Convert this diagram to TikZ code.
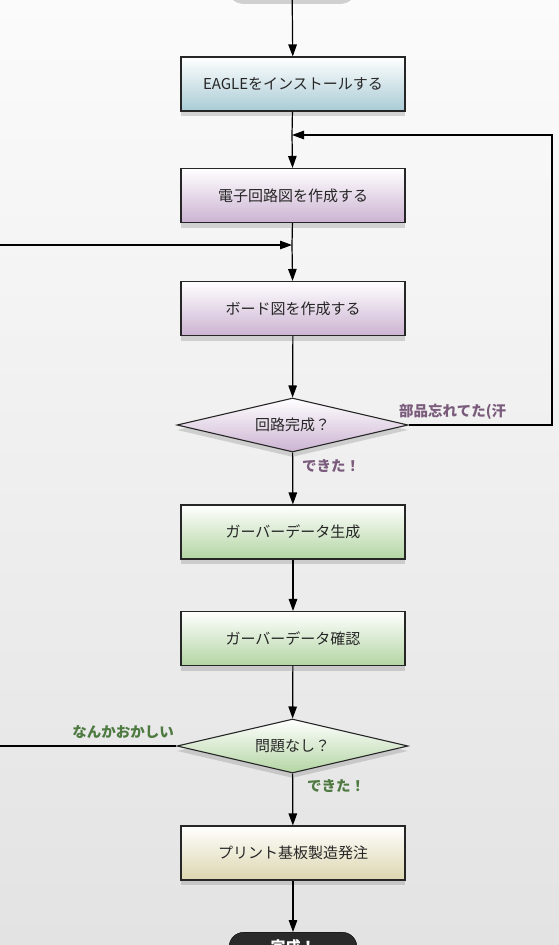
\documentclass[tikz,border=0pt]{standalone}
\usepackage{fontspec}
\setmainfont{Noto Sans CJK JP}
\usepackage{tikz}
\usetikzlibrary{arrows.meta}
\usetikzlibrary{shapes.geometric}
\usetikzlibrary{shadows}
\definecolor{bgtop}{HTML}{FBFBFB}
\definecolor{bgbot}{HTML}{E3E3E3}
\definecolor{installc}{HTML}{A9CBD5}
\definecolor{drawc}{HTML}{CCB3D2}
\definecolor{gerberc}{HTML}{B3D5A3}
\definecolor{orderc}{HTML}{DCD6AE}
\definecolor{termc}{HTML}{2A2A2A}
\definecolor{purplelbl}{HTML}{7A5B7C}
\definecolor{greenlbl}{HTML}{4E7A41}
\tikzset{
	stepbox/.style={shape=rectangle,draw=black!85,line width=1.1pt,minimum width=224pt,minimum height=54pt,inner sep=0pt,top color=white,font=\fontsize{15}{17}\selectfont,text=black!85,drop shadow={shadow xshift=0pt,shadow yshift=-5pt,opacity=0.3}},
	checkbox/.style={shape=diamond,draw=black!85,line width=1.1pt,minimum width=231pt,minimum height=54pt,aspect=4.3,inner sep=0pt,top color=white,font=\fontsize{15}{17}\selectfont,text=black!85,drop shadow={shadow xshift=0pt,shadow yshift=-5pt,opacity=0.3}},
	termbox/.style={shape=rectangle,rounded corners=15pt,draw=black,fill=termc,minimum width=128pt,inner sep=0pt,text=white,font=\bfseries\fontsize{15}{17}\selectfont,drop shadow={shadow xshift=0pt,shadow yshift=-5pt,opacity=0.35}},
	flow/.style={line width=1.2pt,-{Triangle[length=12pt,width=8.5pt]}},
	wire/.style={line width=1.2pt},
	lbl/.style={font=\bfseries\fontsize{14.5}{16}\selectfont,inner sep=0pt}
}
\newcommand{\drawstepbox}[4]{
	\draw #1 node (#2) [stepbox,bottom color=#3] {#4};
}
\newcommand{\drawcheckbox}[4]{
	\draw #1 node (#2) [checkbox,bottom color=#3] {#4};
}
\begin{document}
\begin{tikzpicture}[x=1pt,y=-1pt]
\useasboundingbox (0,0) rectangle (559,945);
\clip (0,0) rectangle (559,945);
\shade[top color=bgtop,bottom color=bgbot] (0,0) rectangle (559,945);
\draw (292,-1) node (start) [termbox,minimum height=40pt,anchor=south] {};
\drawstepbox{(293,84)}{install}{installc}{EAGLEをインストールする}
\drawstepbox{(293,195.5)}{schem}{drawc}{電子回路図を作成する}
\drawstepbox{(293,308.5)}{board}{drawc}{ボード図を作成する}
\drawcheckbox{(292.5,425)}{done1}{drawc}{回路完成？}
\drawstepbox{(293,532)}{gerber}{gerberc}{ガーバーデータ生成}
\drawstepbox{(293,638.5)}{gcheck}{gerberc}{ガーバーデータ確認}
\drawcheckbox{(292.5,746)}{done2}{gerberc}{問題なし？}
\drawstepbox{(293,853)}{order}{orderc}{プリント基板製造発注}
\draw (293,932) node (finish) [termbox,minimum height=30pt,anchor=north] {完成！};
\coordinate (merge1) at (292,135);
\coordinate (merge2) at (292,245);
\coordinate (loopr) at (552,425);
\coordinate (loopt) at (552,135);
\coordinate (inl) at (0,245);
\coordinate (outl) at (0,746);
\draw[flow] (start) -- (install);
\draw[wire] (install) -- (merge1);
\draw[flow] (merge1) -- (schem);
\draw[wire] (schem) -- (merge2);
\draw[flow] (merge2) -- (board);
\draw[flow] (board) -- (done1);
\draw[flow] (done1.east) -- (loopr) -- (loopt) -- (merge1);
\draw[flow] (inl) -- (merge2);
\draw[flow] (done1) -- (gerber);
\draw[flow] (gerber) -- (gcheck);
\draw[flow] (gcheck) -- (done2);
\draw[wire] (done2.west) -- (outl);
\draw[flow] (done2) -- (order);
\draw[flow] (order) -- (finish);
\draw (399,412) node (forgot) [lbl,text=purplelbl,anchor=west] {部品忘れてた(汗};
\draw (302,466) node (ok1) [lbl,text=purplelbl,anchor=west] {できた！};
\draw (174,732) node (odd) [lbl,text=greenlbl,anchor=east] {なんかおかしい};
\draw (307,786) node (ok2) [lbl,text=greenlbl,anchor=west] {できた！};
\end{tikzpicture}
\end{document}
